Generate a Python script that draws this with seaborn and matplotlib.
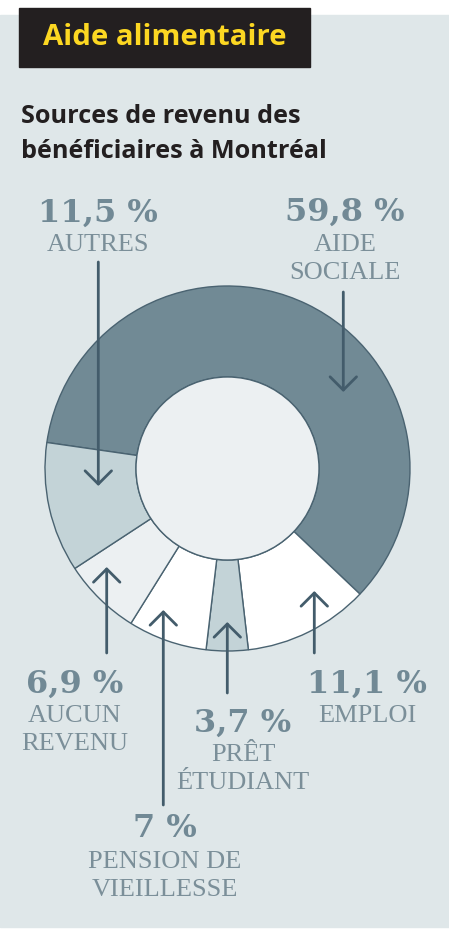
import numpy as np
import seaborn as sns
import matplotlib.pyplot as plt
from matplotlib.patches import Rectangle, Circle

# données (pourcentages)
sources = ["AIDE\nSOCIALE", "EMPLOI", "PRÊT\nÉTUDIANT", "PENSION DE\nVIEILLESSE", "AUCUN\nREVENU", "AUTRES"]
parts = [59.8, 11.1, 3.7, 7.0, 6.9, 11.5]

# couleurs des tranches
slice_colors = ["#718a95", "#ffffff", "#c3d3d7", "#ffffff", "#ecf0f2", "#c3d3d7"]

# mise en page (pixels, origine en haut à gauche)
W, H = 449, 932
pie_center = (227.5, 468.5)
pie_r, hole_r = 182.5, 91.5
# x, queue, pointe de chaque flèche
arrow_pos = [(343.3, 292, 392), (314.3, 653, 591), (227.3, 693, 622),
             (163.3, 805, 610), (106.7, 653, 567), (98.3, 262, 486)]
# x centre, ligne de base du %, lignes de base du libellé
label_pos = [(345, 221, [251, 279]), (367, 693, [722]), (243, 732, [761, 789]),
             (165, 837, [868, 896]), (75, 693, [722, 750]), (98, 222, [251])]

bg = "#dfe7e9"
edge = "#4a6371"
arrow_col = "#435c6b"
pct_col = "#718995"
lab_col = "#7b8f99"

sns.set_theme(style="white")
plt.rcParams['font.family'] = ['DejaVu Sans']

fig = plt.figure(figsize=(W / 100, H / 100), dpi=100)
ax = fig.add_axes([0, 0, 1, 1])

def py(y):
    return H - y

# fond
ax.add_patch(Rectangle((0, py(927)), W, 927 - 15, color=bg, zorder=0))
ax.add_patch(Rectangle((19, py(67)), 291, 59, color="#231f20", zorder=1))
ax.text(43, py(45), "Aide alimentaire", family="Open Sans", weight="bold",
        fontsize=21.2, color="#fcd722", zorder=2)
ax.text(21, py(123), "Sources de revenu des", family="Open Sans", weight="bold",
        fontsize=18.2, color="#231f20")
ax.text(21, py(158), "bénéficiaires à Montréal", family="Open Sans", weight="bold",
        fontsize=18.2, color="#231f20")

# anneau
ax.pie(parts, colors=slice_colors, startangle=171.8, counterclock=False,
       radius=pie_r, center=(pie_center[0], py(pie_center[1])), frame=True,
       wedgeprops=dict(width=pie_r - hole_r, edgecolor=edge, linewidth=1.0))
ax.add_patch(Circle((pie_center[0], py(pie_center[1])), hole_r,
                    facecolor="#ecf0f2", edgecolor=edge, linewidth=1.0, zorder=3))

# flèches
for x, y0, y1 in arrow_pos:
    ax.annotate("", xy=(x, py(y1)), xytext=(x, py(y0)),
                arrowprops=dict(arrowstyle="->,head_length=0.68,head_width=0.68",
                                color=arrow_col, lw=2.0, shrinkA=0, shrinkB=0,
                                mutation_scale=14),
                zorder=4)

# étiquettes
for name, val, (x, yp, ys) in zip(sources, parts, label_pos):
    pct = f"{val:g}".replace(".", ",") + " %"
    ax.text(x, py(yp), pct, ha="center", va="baseline", family="DejaVu Serif",
            weight="bold", fontsize=23, color=pct_col)
    for line, yl in zip(name.split("\n"), ys):
        ax.text(x, py(yl), line, ha="center", va="baseline", family="Liberation Serif",
                fontsize=19, color=lab_col)

ax.set_aspect("auto")
ax.set_xlim(0, W)
ax.set_ylim(0, H)
ax.axis("off")

fig.savefig("out.png", dpi=100, facecolor="white")
